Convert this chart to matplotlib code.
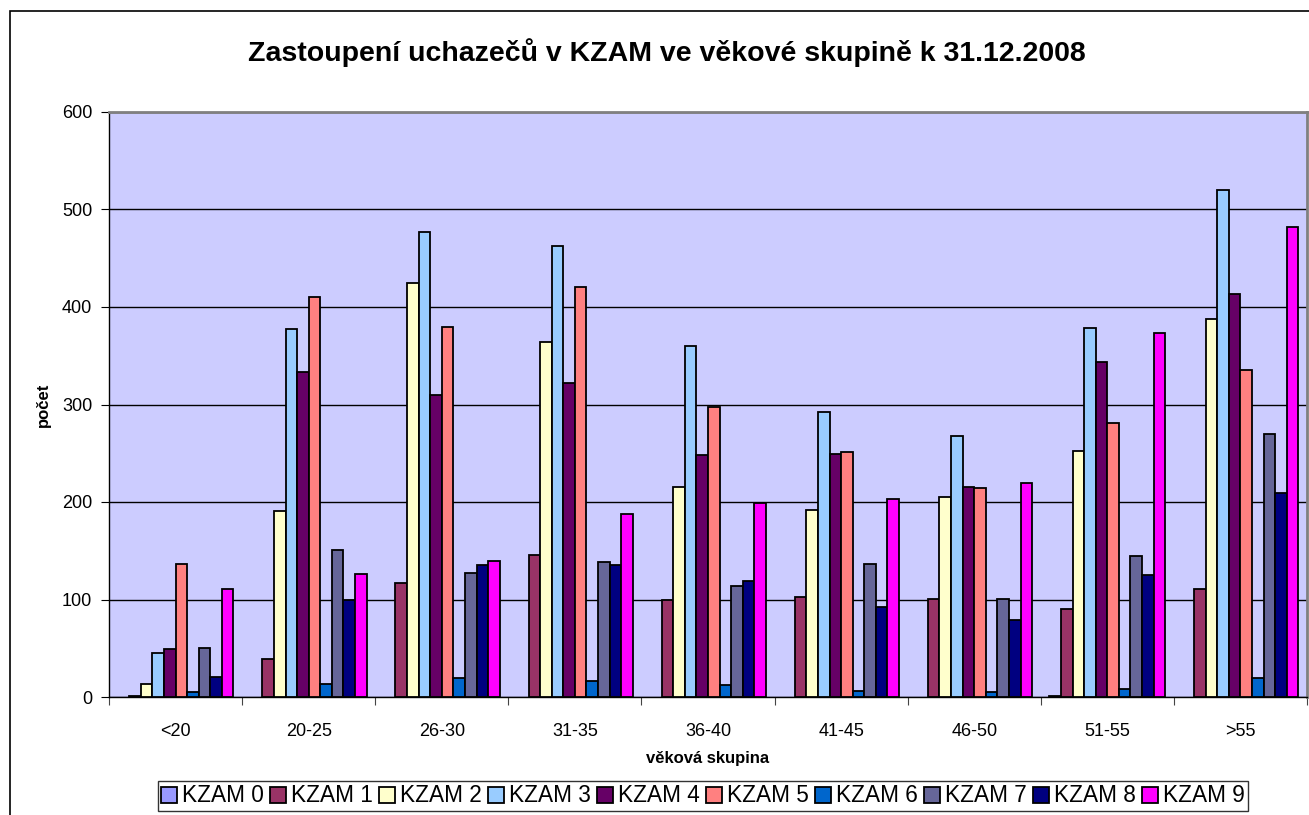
import matplotlib.pyplot as plt
import numpy as np
from matplotlib import font_manager as fm
from matplotlib.patches import Rectangle

plt.rcParams["font.family"] = ["Liberation Sans", "DejaVu Sans"]


def bold_font(size):
    # pick regular-width Liberation Sans Bold, not the Narrow cut
    for f in fm.fontManager.ttflist:
        if f.name == "Liberation Sans" and f.weight in (700, "bold") \
                and "narrow" not in f.fname.lower() and f.style == "normal":
            return fm.FontProperties(fname=f.fname, size=size)
    return fm.FontProperties(family="DejaVu Sans", weight="bold", size=size)


groups = ["<20", "20-25", "26-30", "31-35", "36-40", "41-45", "46-50", "51-55", ">55"]
series = ["KZAM 0", "KZAM 1", "KZAM 2", "KZAM 3", "KZAM 4",
          "KZAM 5", "KZAM 6", "KZAM 7", "KZAM 8", "KZAM 9"]

kzam0 = [0, 0, 0, 0, 0, 0, 0, 1, 0]
kzam1 = [1, 39, 117, 146, 99, 103, 101, 90, 111]
kzam2 = [13, 191, 425, 364, 215, 192, 205, 252, 388]
kzam3 = [45, 377, 477, 463, 360, 292, 268, 378, 520]
kzam4 = [49, 333, 310, 322, 248, 249, 215, 344, 413]
kzam5 = [136, 410, 379, 420, 297, 251, 214, 281, 335]
kzam6 = [5, 13, 19, 16, 12, 6, 5, 8, 19]
kzam7 = [50, 151, 127, 138, 114, 136, 101, 145, 270]
kzam8 = [21, 100, 135, 135, 119, 92, 79, 125, 209]
kzam9 = [111, 126, 139, 188, 199, 203, 220, 373, 482]
values = [kzam0, kzam1, kzam2, kzam3, kzam4, kzam5, kzam6, kzam7, kzam8, kzam9]

colors = ["#9999FF", "#993366", "#FFFFCC", "#99CCFF", "#660066",
          "#FF8080", "#0066CC", "#666699", "#000080", "#FF00FF"]

W, H = 1309, 815
fig = plt.figure(figsize=(W / 100, H / 100), dpi=100)
ax = fig.add_axes([109 / W, 1 - 697 / H, (1307 - 109) / W, (697 - 112) / H])
ax.set_facecolor("#CCCCFF")

# outer chart frame
fig.patches.append(Rectangle((10 / W, -0.1), 1.2, 1 - 11 / H + 0.1,
                             transform=fig.transFigure, fill=False,
                             edgecolor="black", linewidth=1.2))

n = len(series)
bw = 1 / (n + 1.5)
x = np.arange(len(groups))
for i, (name, vals, c) in enumerate(zip(series, values, colors)):
    offs = (i - (n - 1) / 2) * bw
    # zero-height bars are not drawn (no edge line on the axis)
    h = np.where(np.array(vals) == 0, np.nan, vals)
    ax.bar(x + offs, h, width=bw, color=c, edgecolor="black",
           linewidth=1.3, label=name, zorder=3)

ax.set_xlim(-0.5, len(groups) - 0.5)
ax.set_ylim(0, 600)
ax.set_yticks(range(0, 601, 100))
ax.yaxis.grid(True, color="black", linewidth=1, zorder=1)
ax.set_axisbelow(True)

ax.set_xticks(np.arange(len(groups) + 1) - 0.5)
ax.set_xticklabels([])
ax.set_xticks(x, minor=True)
ax.set_xticklabels(groups, minor=True, fontsize=13)
ax.tick_params(axis="x", which="minor", length=0, pad=19)
ax.tick_params(axis="x", which="major", length=6, direction="out", color="#444444")
ax.tick_params(axis="y", length=6, direction="out", labelsize=13, pad=6)

for s in ["top", "right"]:
    ax.spines[s].set_color("#808080")
    ax.spines[s].set_linewidth(2)
for s in ["left", "bottom"]:
    ax.spines[s].set_color("black")
    ax.spines[s].set_linewidth(1)

ax.set_xlabel("věková skupina", fontproperties=bold_font(12), labelpad=8)
ax.set_ylabel("počet", fontproperties=bold_font(12), labelpad=8)

fig.text(0.5 + 12 / W, 1 - 53 / H, "Zastoupení uchazečů v KZAM ve věkové skupině k 31.12.2008",
         ha="center", va="center", fontproperties=bold_font(20.5))

leg = fig.legend(loc="center", bbox_to_anchor=(703 / W, 1 - 796 / H), ncol=n,
                 fontsize=16.3, frameon=True, fancybox=False, edgecolor="black",
                 handlelength=0.7, handleheight=0.7, handletextpad=0.2,
                 columnspacing=0.3, borderpad=0.15, borderaxespad=0)
leg.get_frame().set_linewidth(1)

fig.savefig("out.png", dpi=100)
